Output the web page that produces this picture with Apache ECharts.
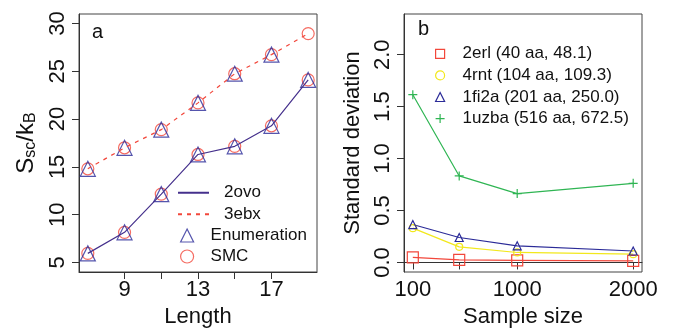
<!DOCTYPE html>
<html lang="en">

<head>
  <meta charset="UTF-8">
  <title>Entropy and standard deviation</title>
  <script src="https://cdn.jsdelivr.net/npm/echarts@6.0.0/dist/echarts.min.js"></script>
</head>

<body style="margin: 0;">
  <div id="chart" style="width: 675px; height: 328px;"></div>
  <script>
    // panel a: entropy vs length
    const lengths = [7, 9, 11, 13, 15, 17, 19]
    const ovoEnum = [5.95, 8.15, 12.15, 16.3, 17.15, 19.3, 24.1]
    const ovoSmc = [5.95, 8.15, 12.15, 16.3, 17.15, 19.3, 24.1]
    const ebxEnum = [14.8, 17.0, 18.9, 21.7, 24.75, 26.75]
    const ebxSmc = [14.8, 17.0, 18.9, 21.7, 24.75, 26.75, 28.95]
    const lengthTicks = [9, 11, 13, 15, 17]
    const lengthLabels = [9, 13, 17]
    const entropyTicks = [5, 10, 15, 20, 25, 30]

    // panel b: std deviation vs sample size
    const sampleSizes = [100, 500, 1000, 2000]
    const sd2erl = [0.048, 0.025, 0.02, 0.015]
    const sd4rnt = [0.33, 0.15, 0.096, 0.08]
    const sd1fi2a = [0.365, 0.24, 0.16, 0.11]
    const sd1uzba = [1.615, 0.833, 0.663, 0.762]
    const sizeLabels = [100, 1000, 2000]
    const sdTicks = [0, 0.5, 1, 1.5, 2]
    const proteinNames = ['2erl (40 aa, 48.1)', '4rnt (104 aa, 109.3)', '1fi2a (201 aa, 250.0)', '1uzba (516 aa, 672.5)']

    const RED = '#f2473b'
    const BLUE = '#2b2b98'
    const YELLOW = '#f2e81c'
    const GREEN = '#2fb553'
    const PLUS = 'path://M0,5L10,5M5,0L5,10'
    const FONT = 'Liberation Sans'

    const zip = (xs, ys) => ys.map((y, i) => [xs[i], y])
    const hollow = c => ({ color: 'transparent', borderColor: c, borderWidth: 1.2 })
    // legend text pushed right by an empty rich block
    const gapText = (gap, lh) => ({
      fontSize: 17, color: '#111', lineHeight: lh,
      rich: { g: { width: gap }, t: { fontSize: 17, color: '#111', lineHeight: lh } }
    })
    const gapFmt = name => '{g|}{t|' + name + '}'

    const axisCommon = {
      axisLine: { show: true, lineStyle: { color: '#333', width: 1 } },
      axisTick: { show: true, length: 7, lineStyle: { color: '#333' } },
      splitLine: { show: false },
      nameTextStyle: { fontFamily: FONT, fontSize: 22, color: '#111' }
    }
    const gridCommon = {
      top: 14, width: 238, height: 258, show: true, borderColor: '#444', borderWidth: 1,
      containLabel: false, outerBoundsMode: 'none'
    }

    const myEcharts = echarts.init(document.getElementById('chart'))

    const option = {
      animation: false,
      textStyle: { fontFamily: FONT },
      grid: [
        { ...gridCommon, left: 79 },
        { ...gridCommon, left: 404 }
      ],
      xAxis: [
        {
          ...axisCommon, type: 'value', gridIndex: 0, min: 6.52, max: 19.48,
          name: 'Length', nameLocation: 'middle', nameGap: 32,
          axisTick: { ...axisCommon.axisTick, customValues: lengthTicks },
          axisLabel: { customValues: lengthLabels, fontSize: 22, color: '#111', margin: 7, formatter: v => String(v) }
        },
        {
          ...axisCommon, type: 'value', gridIndex: 1, min: 24, max: 2076,
          name: 'Sample size', nameLocation: 'middle', nameGap: 32,
          axisTick: { ...axisCommon.axisTick, customValues: sampleSizes },
          axisLabel: { customValues: sizeLabels, fontSize: 22, color: '#111', margin: 7, formatter: v => String(v) }
        }
      ],
      yAxis: [
        {
          ...axisCommon, type: 'value', gridIndex: 0, min: 4, max: 31,
          name: '{s|S}{sub|sc}{s|/k}{sub|B}', nameLocation: 'middle', nameGap: 40, nameRotate: 90,
          nameTextStyle: {
            rich: {
              s: { fontFamily: FONT, fontSize: 24, color: '#111' },
              sub: { fontFamily: FONT, fontSize: 16, color: '#111', padding: [10, 0, 0, 0] }
            }
          },
          axisTick: { ...axisCommon.axisTick, customValues: entropyTicks },
          axisLabel: { customValues: entropyTicks, fontSize: 22, color: '#111', rotate: 90, margin: 10 }
        },
        {
          ...axisCommon, type: 'value', gridIndex: 1, min: -0.092, max: 2.392,
          name: 'Standard deviation', nameLocation: 'middle', nameGap: 40, nameRotate: 90,
          axisTick: { ...axisCommon.axisTick, customValues: sdTicks },
          axisLabel: {
            customValues: sdTicks, fontSize: 22, color: '#111', rotate: 90, margin: 10,
            formatter: v => v.toFixed(1)
          }
        }
      ],
      legend: [
        {
          data: [
            { name: '2ovo', itemStyle: { opacity: 0 } },
            { name: '3ebx', itemStyle: { opacity: 0 } }
          ],
          orient: 'vertical', left: 177, top: 182, padding: 0,
          itemWidth: 31, itemHeight: 10, itemGap: 0, selectedMode: false,
          formatter: gapFmt, textStyle: gapText(10, 21.5)
        },
        {
          data: [
            { name: 'Enumeration', icon: 'triangle', itemStyle: hollow(BLUE) },
            { name: 'SMC', icon: 'circle', itemStyle: hollow(RED) }
          ],
          orient: 'vertical', left: 180, top: 225, padding: 0,
          itemWidth: 13, itemHeight: 13, itemGap: 0, selectedMode: false,
          formatter: gapFmt, textStyle: gapText(12, 21)
        },
        {
          data: [
            { name: proteinNames[0], icon: 'rect', itemStyle: hollow(RED) },
            { name: proteinNames[1], icon: 'circle', itemStyle: hollow(YELLOW) },
            { name: proteinNames[2], icon: 'triangle', itemStyle: hollow(BLUE) },
            { name: proteinNames[3], icon: PLUS, itemStyle: hollow(GREEN) }
          ],
          orient: 'vertical', left: 435, top: 43, padding: 0,
          itemWidth: 9, itemHeight: 9, itemGap: 0, selectedMode: false,
          formatter: gapFmt, textStyle: gapText(13, 21.6)
        }
      ],
      graphic: [
        { type: 'text', left: 92, top: 22, style: { text: 'a', font: '20px "Liberation Sans"', fill: '#111' } },
        { type: 'text', left: 418, top: 19, style: { text: 'b', font: '20px "Liberation Sans"', fill: '#111' } }
      ],
      series: [
        {
          name: '2ovo', type: 'line', xAxisIndex: 0, yAxisIndex: 0, symbol: 'none',
          data: zip(lengths, ovoSmc), color: '#45308c',
          lineStyle: { color: '#45308c', width: 1.2 }
        },
        {
          name: '3ebx', type: 'line', xAxisIndex: 0, yAxisIndex: 0, symbol: 'none',
          data: zip(lengths, ebxSmc), color: RED,
          lineStyle: { color: RED, width: 1.2, type: [4, 5] }
        },
        {
          name: 'SMC', type: 'scatter', xAxisIndex: 0, yAxisIndex: 0,
          symbol: 'circle', symbolSize: 12, itemStyle: hollow(RED),
          data: zip(lengths, ovoSmc).concat(zip(lengths, ebxSmc))
        },
        {
          name: 'Enumeration', type: 'scatter', xAxisIndex: 0, yAxisIndex: 0,
          symbol: 'triangle', symbolSize: 15, itemStyle: hollow(BLUE),
          data: zip(lengths, ovoEnum).concat(zip(lengths, ebxEnum))
        },
        {
          name: proteinNames[0], type: 'line', xAxisIndex: 1, yAxisIndex: 1,
          data: zip(sampleSizes, sd2erl), symbol: 'rect', symbolSize: 11,
          itemStyle: hollow(RED), lineStyle: { color: RED, width: 1.2 }
        },
        {
          name: proteinNames[1], type: 'line', xAxisIndex: 1, yAxisIndex: 1,
          data: zip(sampleSizes, sd4rnt), symbol: 'circle', symbolSize: 7,
          itemStyle: hollow(YELLOW), lineStyle: { color: YELLOW, width: 1.2 }
        },
        {
          name: proteinNames[2], type: 'line', xAxisIndex: 1, yAxisIndex: 1,
          data: zip(sampleSizes, sd1fi2a), symbol: 'triangle', symbolSize: 8,
          itemStyle: hollow(BLUE), lineStyle: { color: BLUE, width: 1.2 }
        },
        {
          name: proteinNames[3], type: 'line', xAxisIndex: 1, yAxisIndex: 1,
          data: zip(sampleSizes, sd1uzba), symbol: PLUS, symbolSize: 9,
          itemStyle: hollow(GREEN), lineStyle: { color: GREEN, width: 1.2 }
        }
      ]
    }

    myEcharts.setOption(option)
  </script>
</body>

</html>
